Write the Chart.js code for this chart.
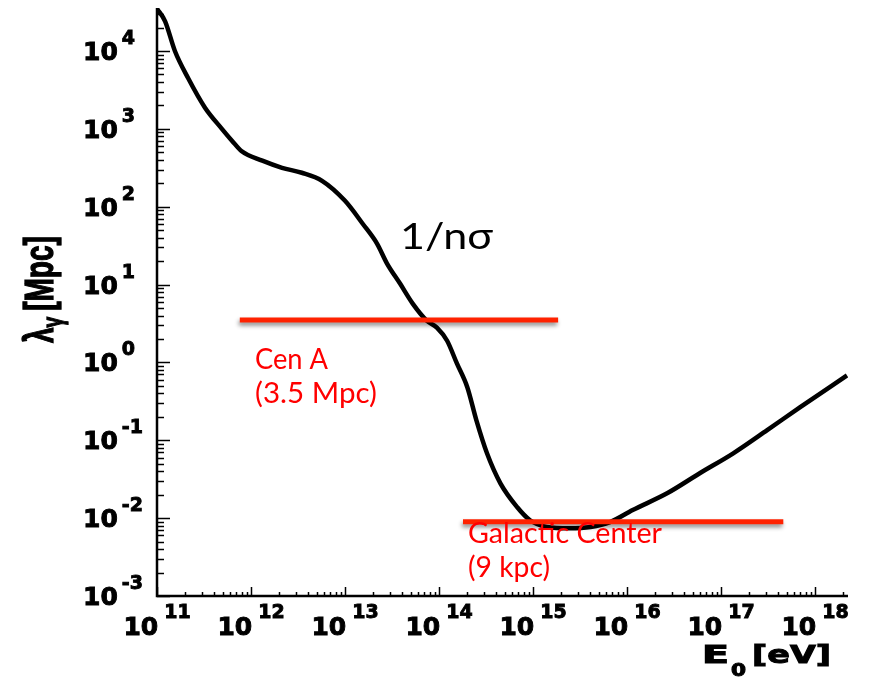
<!DOCTYPE html>
<html>
<head>
<meta charset="utf-8">
<script src="https://cdn.jsdelivr.net/npm/chart.js@4.4.1/dist/chart.umd.min.js"></script>
<style>
  html, body { margin: 0; padding: 0; background: #fff; }
  #wrap { width: 870px; height: 677px; }
  canvas { display: block; }
</style>
</head>
<body>
<div id="wrap"><canvas id="c" width="870" height="677"></canvas></div>
<script>
// Photon mean free path lambda_gamma (Mpc) versus photon energy E0 (eV)
const energyEV = [
  1.0e11, 1.22e11, 1.55e11, 2.14e11, 3.24e11, 4.9e11, 6.3e11, 7.9e11,
  1.32e12, 2.14e12, 3.47e12, 5.7e12, 1.0e13, 1.55e13, 2.19e13, 2.8e13,
  3.85e13, 5.25e13, 7.4e13, 9.5e13, 1.22e14, 1.55e14, 2.0e14, 2.5e14,
  3.24e14, 4.5e14, 6.8e14, 9.3e14, 1.4e15, 2.45e15, 4.1e15, 6.6e15,
  1.15e16, 2.7e16, 6.0e16, 1.35e17, 3.1e17, 6.9e17, 2.19e18
];
const lambdaMpc = [
  3.5e4, 2.4e4, 1.0e4, 4500, 1870, 1000, 700, 520,
  390, 316, 273, 215, 119, 60, 33.6, 18.6,
  10.3, 5.7, 3.45, 2.8, 1.9, 0.97, 0.48, 0.18,
  0.068, 0.028, 0.0138, 0.0094, 0.0077, 0.0074, 0.0077, 0.0089,
  0.0127, 0.021, 0.038, 0.068, 0.135, 0.265, 0.68
];

// Source distances drawn as horizontal reference lines
const cenAEnergy = [7.6e11, 1.85e15];
const cenADistance = 3.5;      // Mpc
const gcEnergy = [1.8e14, 4.6e17];
const gcDistance = 0.009;      // Mpc (9 kpc)

// Decade exponents used for tick labels
const xDecades = [11, 12, 13, 14, 15, 16, 17, 18];
const yDecades = [-3, -2, -1, 0, 1, 2, 3, 4];

const X_MIN = 1e11, X_MAX = Math.pow(10, 18.351);
const Y_MIN = 1e-3, Y_MAX = Math.pow(10, 4.552);

const RED_LINE = '#ff2200';
const RED_TEXT = '#ff0000';

// Draw text stretched horizontally to a given width (left aligned at x)
function fitText(ctx, text, x, y, font, width, heavy) {
  ctx.save();
  ctx.font = font;
  const w = ctx.measureText(text).width;
  ctx.translate(x, y);
  ctx.scale(width / w, 1);
  ctx.textAlign = 'left';
  ctx.textBaseline = 'alphabetic';
  ctx.fillText(text, 0, 0);
  if (heavy) {
    ctx.lineWidth = heavy;
    ctx.strokeStyle = ctx.fillStyle;
    ctx.strokeText(text, 0, 0);
  }
  ctx.restore();
}

// Bold text with an extra outline for a heavier stroke
function heavyText(ctx, text, x, y, font) {
  ctx.font = font;
  ctx.fillText(text, x, y);
  ctx.lineWidth = 0.9;
  ctx.strokeText(text, x, y);
}

const shadowPlugin = {
  id: 'lineShadow',
  beforeDatasetDraw(chart, args) {
    const ds = chart.data.datasets[args.index];
    const ctx = chart.ctx;
    ctx.save();
    if (ds.dropShadow) {
      ctx.shadowColor = 'rgba(0,0,0,0.45)';
      ctx.shadowBlur = 4;
      ctx.shadowOffsetX = -1;
      ctx.shadowOffsetY = 3;
    }
  },
  afterDatasetDraw(chart) {
    chart.ctx.restore();
  }
};

const axesPlugin = {
  id: 'logAxes',
  afterDraw(chart) {
    const ctx = chart.ctx;
    const xs = chart.scales.x, ys = chart.scales.y;
    const area = chart.chartArea;
    ctx.save();
    ctx.beginPath();
    ctx.rect(0, 0, 848, 677);
    ctx.clip();
    ctx.strokeStyle = '#000';
    ctx.fillStyle = '#000';

    // axis lines
    ctx.lineWidth = 2.5;
    ctx.beginPath();
    ctx.moveTo(area.left, area.top);
    ctx.lineTo(area.left, area.bottom);
    ctx.lineTo(area.right, area.bottom);
    ctx.stroke();

    // inward ticks, decades long, 2..9 short
    ctx.lineWidth = 1.5;
    for (let d = -3; d <= 4; d++) {
      for (let m = 1; m <= 9; m++) {
        const v = m * Math.pow(10, d);
        if (v < Y_MIN || v > Y_MAX) continue;
        const py = Math.round(ys.getPixelForValue(v)) + 0.5;
        const len = m === 1 ? 13 : 7;
        ctx.beginPath();
        ctx.moveTo(area.left, py);
        ctx.lineTo(area.left + len, py);
        ctx.stroke();
      }
    }
    for (let d = 11; d <= 18; d++) {
      for (let m = 1; m <= 9; m++) {
        const v = m * Math.pow(10, d);
        if (v < X_MIN || v > X_MAX) continue;
        const px = Math.round(xs.getPixelForValue(v)) + 0.5;
        const len = m === 1 ? 9 : 4;
        ctx.beginPath();
        ctx.moveTo(px, area.bottom);
        ctx.lineTo(px, area.bottom - len);
        ctx.stroke();
      }
    }

    // decade labels "10" with raised exponent
    const baseFont = 'bold 25px "DejaVu Sans"';
    const expFont = 'bold 19px "DejaVu Sans"';
    ctx.textBaseline = 'alphabetic';
    ctx.textAlign = 'left';
    ctx.font = baseFont;
    const w10 = ctx.measureText('10').width;

    yDecades.forEach(d => {
      const py = ys.getPixelForValue(Math.pow(10, d));
      heavyText(ctx, '10', 83, py + 9, baseFont);
      heavyText(ctx, String(d), 83 + w10 + 4, py - 7, expFont);
    });

    xDecades.forEach(d => {
      const px = xs.getPixelForValue(Math.pow(10, d));
      ctx.font = expFont;
      const we = ctx.measureText(String(d)).width;
      const total = w10 + 6 + we;
      const x0 = px - total / 2;
      heavyText(ctx, '10', x0, 635, baseFont);
      heavyText(ctx, String(d), x0 + w10 + 6, 618, expFont);
    });

    // x axis title: E0 [eV]
    fitText(ctx, 'E', 702, 663, 'bold 24px "DejaVu Sans"', 27, 1);
    fitText(ctx, '0', 731, 676, 'bold 17px "DejaVu Sans"', 15, 1);
    fitText(ctx, '[eV]', 752, 663, 'bold 24px "DejaVu Sans"', 79, 1);
    ctx.restore();

    // y axis title: lambda_gamma [Mpc], rotated
    ctx.save();
    ctx.fillStyle = '#000';
    ctx.strokeStyle = '#000';
    ctx.translate(53, 343);
    ctx.scale(1.45, 1);
    ctx.rotate(-Math.PI / 2);
    ctx.textBaseline = 'alphabetic';
    heavyText(ctx, '\u03bb', 0, 0, 'bold 28px "Liberation Sans"');
    ctx.font = 'bold 28px "Liberation Sans"';
    let off = ctx.measureText('\u03bb').width;
    heavyText(ctx, '\u03b3', off, 6, 'bold 19px "Liberation Sans"');
    ctx.font = 'bold 19px "Liberation Sans"';
    off += ctx.measureText('\u03b3').width + 6;
    heavyText(ctx, '[Mpc]', off, 0, 'bold 28px "Liberation Sans"');
    ctx.restore();

    // annotations
    ctx.save();
    ctx.fillStyle = '#000';
    fitText(ctx, '1/n\u03c3', 400, 249, '37px Lato, "Open Sans"', 93);
    ctx.fillStyle = RED_TEXT;
    fitText(ctx, 'Cen A', 255, 369, '28px Lato', 73);
    fitText(ctx, '(3.5 Mpc)', 255, 403, '28px Lato', 122);
    fitText(ctx, 'Galactic Center', 468, 543, '28px Lato', 194);
    fitText(ctx, '(9 kpc)', 468, 577, '28px Lato', 82);
    ctx.restore();
  }
};

const curve = energyEV.map((e, i) => ({ x: e, y: lambdaMpc[i] }));

new Chart(document.getElementById('c'), {
  type: 'scatter',
  data: {
    datasets: [
      {
        data: cenAEnergy.map(e => ({ x: e, y: cenADistance })),
        showLine: true, borderColor: RED_LINE, borderWidth: 5,
        pointRadius: 0, dropShadow: true, borderCapStyle: 'butt'
      },
      {
        data: gcEnergy.map(e => ({ x: e, y: gcDistance })),
        showLine: true, borderColor: RED_LINE, borderWidth: 5,
        pointRadius: 0, dropShadow: true, borderCapStyle: 'butt'
      },
      {
        data: curve,
        showLine: true, borderColor: '#000', borderWidth: 4.5,
        pointRadius: 0, cubicInterpolationMode: 'monotone', clip: 0,
        borderJoinStyle: 'round'
      }
    ]
  },
  options: {
    responsive: false,
    animation: false,
    devicePixelRatio: 1,
    layout: { padding: { top: 8, right: 22, left: 0, bottom: 0 } },
    plugins: { legend: { display: false }, tooltip: { enabled: false } },
    scales: {
      x: {
        type: 'logarithmic', min: X_MIN, max: X_MAX,
        grid: { display: false }, border: { display: false },
        ticks: { display: false },
        afterFit: s => { s.height = 81; }
      },
      y: {
        type: 'logarithmic', min: Y_MIN, max: Y_MAX,
        grid: { display: false }, border: { display: false },
        ticks: { display: false },
        afterFit: s => { s.width = 157; }
      }
    }
  },
  plugins: [shadowPlugin, axesPlugin]
});
</script>
</body>
</html>
